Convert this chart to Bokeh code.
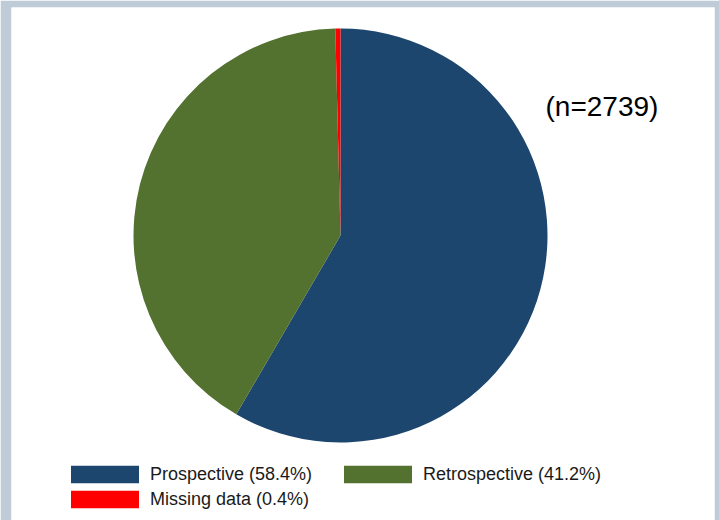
import math
from bokeh.plotting import figure
from bokeh.models import Range1d, Legend, LegendItem, Label
from bokeh.embed import file_html
from bokeh.resources import INLINE

categories = ["Prospective", "Retrospective", "Missing data"]
percents = [58.4, 41.2, 0.4]
colors = ["#1c466e", "#53712f", "#ff0000"]
n_total = 2739

# angles: start at 12 o'clock, clockwise
starts, ends = [], []
cum = 0.0
total = sum(percents)
for v in percents:
    starts.append(math.pi / 2 - 2 * math.pi * cum / total)
    cum += v
    ends.append(math.pi / 2 - 2 * math.pi * cum / total)

labels = [f"{c} ({v:.1f}%)" for c, v in zip(categories, percents)]

p = figure(width=719, height=520, output_backend="svg", toolbar_location=None,
           x_range=Range1d(11, 714), y_range=Range1d(-520, -7))
p.min_border_left = 11
p.min_border_right = 5
p.min_border_top = 7
p.min_border_bottom = 0
p.border_fill_color = "#c0cbd8"
p.background_fill_color = "white"
p.outline_line_color = None
p.axis.visible = False
p.grid.visible = False

renderers = []
for i in range(len(categories)):
    r = p.wedge(x=340, y=-235, radius=207, start_angle=starts[i], end_angle=ends[i],
                direction="clock", fill_color=colors[i], line_color=None)
    renderers.append(r)

# column-wise fill: Prospective, Missing data | Retrospective
order = [0, 2, 1]
legend = Legend(items=[LegendItem(label=labels[i], renderers=[renderers[i]]) for i in order],
                ncols=2, location=(51, 10), glyph_width=85, glyph_height=22,
                label_height=22, label_width=182, spacing=3, label_standoff=3,
                padding=0, margin=0,
                border_line_color=None, background_fill_alpha=0,
                label_text_font="Liberation Sans", label_text_font_size="18px",
                label_text_color="#1a1a1a")
p.add_layout(legend)

p.add_layout(Label(x=545, y=-106, text=f"(n={n_total})", text_font="Liberation Sans",
                   text_font_size="28px", text_baseline="middle", text_color="black"))

open("out.html", "w").write(file_html(p, INLINE))
